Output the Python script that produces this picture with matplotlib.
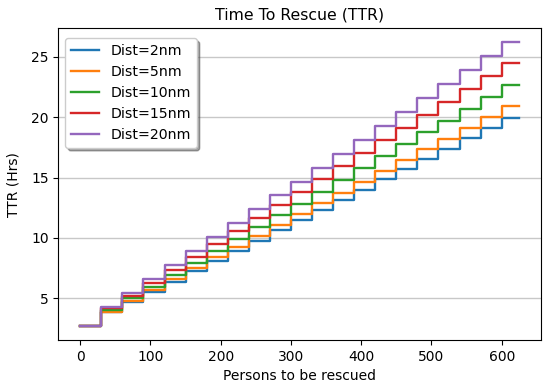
import matplotlib
matplotlib.use("Agg")
import matplotlib.pyplot as plt

# step edges (persons)
edges = [0, 30, 60, 90, 120, 150, 180, 210, 240, 270, 300, 330, 360, 390,
         420, 450, 480, 510, 540, 570, 600, 625]

labels = ["Dist=2nm", "Dist=5nm", "Dist=10nm", "Dist=15nm", "Dist=20nm"]

ttr_2nm = [2.70, 3.84, 4.69, 5.53, 6.38, 7.23, 8.07, 8.92, 9.77, 10.62, 11.46,
           12.31, 13.16, 14.00, 14.85, 15.70, 16.54, 17.39, 18.24, 19.08, 19.93]
ttr_5nm = [2.70, 3.90, 4.80, 5.69, 6.59, 7.48, 8.38, 9.27, 10.17, 11.06, 11.96,
           12.85, 13.75, 14.64, 15.54, 16.43, 17.33, 18.22, 19.12, 20.01, 20.91]
ttr_10nm = [2.70, 4.00, 4.98, 5.96, 6.95, 7.93, 8.91, 9.89, 10.87, 11.86, 12.84,
            13.82, 14.80, 15.78, 16.77, 17.75, 18.73, 19.71, 20.69, 21.68, 22.66]
ttr_15nm = [2.70, 4.15, 5.22, 6.29, 7.36, 8.43, 9.51, 10.58, 11.65, 12.72, 13.79,
            14.86, 15.93, 17.00, 18.07, 19.14, 20.22, 21.29, 22.36, 23.43, 24.50]
ttr_20nm = [2.70, 4.29, 5.44, 6.60, 7.75, 8.90, 10.06, 11.21, 12.36, 13.52, 14.67,
            15.82, 16.98, 18.13, 19.28, 20.44, 21.59, 22.74, 23.90, 25.05, 26.20]

series = [ttr_2nm, ttr_5nm, ttr_10nm, ttr_15nm, ttr_20nm]
colors = ["#1f77b4", "#ff7f0e", "#2ca02c", "#d62728", "#9467bd"]

fig = plt.figure(figsize=(5.5, 3.91), dpi=100)
ax = fig.add_axes([0.106, 0.130, 0.878, 0.798])

for vals, lab, c in zip(series, labels, colors):
    xs = edges
    ys = vals + [vals[-1]]
    ax.plot(xs, ys, drawstyle="steps-post", color=c, lw=1.7, label=lab)

ax.yaxis.grid(True, color="#c8c8c8", lw=1.0)
ax.set_axisbelow(True)
ax.set_xticks([0, 100, 200, 300, 400, 500, 600])
ax.set_yticks([5, 10, 15, 20, 25])
ax.tick_params(labelsize=10)
ax.set_title("Time To Rescue (TTR)", fontsize=11.3)
ax.set_xlabel("Persons to be rescued", fontsize=10)
ax.set_ylabel("TTR (Hrs)", fontsize=10)
ax.yaxis.set_label_coords(-0.078, 0.5)
ax.legend(loc="upper left", fontsize=10.2, shadow=True, framealpha=1,
          bbox_to_anchor=(0.0, 0.99))

fig.savefig("out.png", dpi=100)
